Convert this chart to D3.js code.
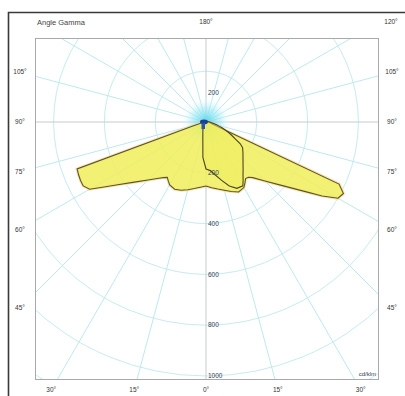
<!DOCTYPE html>
<html>
<head>
<meta charset="utf-8">
<script src="https://cdn.jsdelivr.net/npm/d3@7"></script>
<style>
  body { margin: 0; background: #fff; }
  text { font-family: "Liberation Sans", Arial, sans-serif; }
</style>
</head>
<body>
<svg id="chart" width="405" height="396"></svg>
<script>
// Polar luminous intensity diagram (cd/klm), gamma measured from nadir.
const gammaAngles = [0, 5, 10, 15, 20, 25, 30, 32.5, 35, 37.5, 40, 45, 50, 55, 57.5, 60, 62.5, 65, 67.5, 70, 72.5, 75, 80, 85, 90, 105, 120, 135, 150, 165, 180];

// C0 / C180 plane
const c0Values   = [252, 260, 268, 278, 291, 304, 298, 285, 272, 274, 286, 328, 388, 478, 542, 600, 610, 578, 60, 35, 25, 20, 14, 10, 7, 4, 3, 3, 2, 2, 2];
const c180Values = [252, 258, 266, 276, 286, 292, 286, 276, 266, 276, 289, 323, 368, 432, 476, 529, 545, 545, 543, 540, 60, 30, 18, 12, 8, 5, 4, 3, 2, 2, 2];

// C90 / C270 plane
const c90Values  = [185, 192, 212, 238, 268, 288, 290, 272, 254, 240, 227, 206, 190, 176, 160, 134, 115, 98, 82, 67, 54, 43, 28, 20, 15, 8, 5, 4, 3, 2, 2];
const c270Values = [185, 140, 72, 48, 36, 28, 24, 22, 20, 19, 18, 16, 15, 14, 14, 13, 13, 12, 12, 12, 11, 11, 10, 10, 10, 6, 4, 3, 2, 2, 2];

const ringValues = [200, 400, 600, 800, 1000, 1200];
const ringLabels = ["200", "400", "600", "800", "1000"];
const sideAngleLabels = [105, 90, 75, 60, 45];
const bottomAngleLabels = [-30, -15, 0, 15, 30];
const topLabels = ["Angle Gamma", "180°", "120°"];
const unitLabel = "cd/klm";

const svg = d3.select("#chart");
const rad = Math.PI / 180;

// plot frame and pole
const box = { x0: 35, y0: 38, x1: 378, y1: 379 };
const cx = 206, cy = 122;
const r = d3.scaleLinear().domain([0, 1000]).range([0, 254]);

// outer frame lines
svg.append("path")
  .attr("d", `M8.5,396 V12.5 H405`)
  .attr("fill", "none").attr("stroke", "#3a3a3a").attr("stroke-width", 1.6);

svg.append("defs").call(defs => {
  defs.append("clipPath").attr("id", "plotClip")
    .append("rect").attr("x", box.x0).attr("y", box.y0)
    .attr("width", box.x1 - box.x0).attr("height", box.y1 - box.y0);
  const g = defs.append("radialGradient").attr("id", "poleGlow");
  g.append("stop").attr("offset", "0%").attr("stop-color", "#4fd6ee").attr("stop-opacity", 0.95);
  g.append("stop").attr("offset", "55%").attr("stop-color", "#9fe9f4").attr("stop-opacity", 0.55);
  g.append("stop").attr("offset", "100%").attr("stop-color", "#ffffff").attr("stop-opacity", 0);
});

const plot = svg.append("g").attr("clip-path", "url(#plotClip)");
const polar = plot.append("g").attr("transform", `translate(${cx},${cy})`);

// rings
polar.selectAll("circle.ring").data(ringValues).join("circle")
  .attr("class", "ring")
  .attr("r", d => r(d))
  .attr("fill", "none")
  .attr("stroke", "#c6ecf0")
  .attr("stroke-width", 1);

// radial spokes every 15°
const spokes = d3.range(0, 360, 15);
polar.selectAll("line.spoke").data(spokes).join("line")
  .attr("class", "spoke")
  .attr("x1", 0).attr("y1", 0)
  .attr("x2", d => Math.sin(d * rad) * 400)
  .attr("y2", d => Math.cos(d * rad) * 400)
  .attr("stroke", d => (d % 90 === 0) ? "#c4ccd0" : "#bde9ee")
  .attr("stroke-width", 1);

// glow at the light centre
polar.append("circle").attr("r", 26).attr("fill", "url(#poleGlow)");

// curves
const line = d3.lineRadial().curve(d3.curveLinearClosed);
function planePoints(rightVals, leftVals) {
  const right = gammaAngles.map((g, i) => [Math.PI - g * rad, r(rightVals[i])]).reverse();
  const left = gammaAngles.map((g, i) => [Math.PI + g * rad, r(leftVals[i])]).slice(1, -1);
  return right.concat(left);
}

const planeA = planePoints(c0Values, c180Values);
const planeB = planePoints(c90Values, c270Values);

polar.append("path").attr("d", line(planeA))
  .attr("fill", "none").attr("stroke", "#f3d9a4").attr("stroke-width", 3.2).attr("stroke-opacity", 0.7);
polar.append("path").attr("d", line(planeA))
  .attr("fill", "#f0ee5c").attr("fill-opacity", 0.85)
  .attr("stroke", "#5e5424").attr("stroke-width", 1.1);

polar.append("path").attr("d", line(planeB))
  .attr("fill", "#f0ee5c").attr("fill-opacity", 0.5)
  .attr("stroke", "#4d4420").attr("stroke-width", 1.1);

// luminaire marker
polar.append("ellipse").attr("cx", -2).attr("cy", 0).attr("rx", 4).attr("ry", 2.4).attr("fill", "#1f3f92");
polar.append("rect").attr("x", -4.5).attr("y", 1).attr("width", 3.5).attr("height", 6).attr("fill", "#2a56b0");

// ring labels along the nadir axis
polar.selectAll("text.ringLabel").data(ringLabels).join("text")
  .attr("class", "ringLabel")
  .attr("x", 2)
  .attr("y", d => r(+d))
  .attr("dy", "0.35em")
  .attr("font-size", 6.5)
  .attr("fill", "#2f3f55")
  .text(d => d);
polar.append("text")
  .attr("x", 2).attr("y", -r(200) * 0.58).attr("dy", "0.35em")
  .attr("font-size", 6.5).attr("fill", "#2f3f55")
  .text(ringLabels[0]);

// plot box
svg.append("rect")
  .attr("x", box.x0 + 0.5).attr("y", box.y0 + 0.5)
  .attr("width", box.x1 - box.x0).attr("height", box.y1 - box.y0)
  .attr("fill", "none").attr("stroke", "#a9a9a9").attr("stroke-width", 1);

// angle labels on both sides
const sideDist = 186;
[-1, 1].forEach(s => {
  svg.selectAll(null).data(sideAngleLabels).join("text")
    .attr("x", cx + s * sideDist)
    .attr("y", d => cy + sideDist / Math.tan(d * rad))
    .attr("dy", "0.35em")
    .attr("text-anchor", "middle")
    .attr("font-size", 6.5)
    .attr("fill", "#333")
    .text(d => d + "°");
});

// angle labels below the plot
const bottomDist = 268;
svg.selectAll(null).data(bottomAngleLabels).join("text")
  .attr("x", d => cx + bottomDist * Math.tan(d * rad))
  .attr("y", cy + bottomDist)
  .attr("dy", "0.35em")
  .attr("text-anchor", "middle")
  .attr("font-size", 6.5)
  .attr("fill", "#333")
  .text(d => Math.abs(d) + "°");

// header labels
svg.append("text").attr("x", 37).attr("y", 22).attr("dy", "0.35em")
  .attr("font-size", 7.5).attr("fill", "#444").text(topLabels[0]);
svg.append("text").attr("x", cx).attr("y", 22).attr("dy", "0.35em")
  .attr("text-anchor", "middle").attr("font-size", 6.5).attr("fill", "#333").text(topLabels[1]);
svg.append("text").attr("x", 391).attr("y", 22).attr("dy", "0.35em")
  .attr("text-anchor", "middle").attr("font-size", 6.5).attr("fill", "#333").text(topLabels[2]);

// unit
svg.append("text").attr("x", 376).attr("y", 374).attr("dy", "0.35em")
  .attr("text-anchor", "end").attr("font-size", 6).attr("fill", "#2f3f55").text(unitLabel);
</script>
</body>
</html>
